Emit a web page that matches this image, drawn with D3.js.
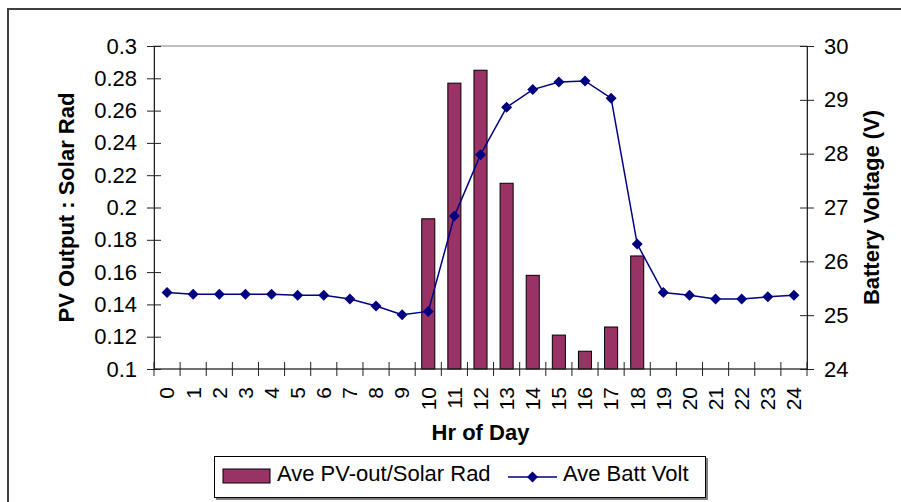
<!DOCTYPE html>
<html>
<head>
<meta charset="utf-8">
<script src="https://cdn.jsdelivr.net/npm/d3@7"></script>
<style>
  body { margin: 0; background: #fff; }
  text { font-family: "Liberation Sans", Arial, sans-serif; fill: #000; }
</style>
</head>
<body>
<svg id="chart" width="901" height="502"></svg>
<script>
// --- data ---
const hours = ['0', '1', '2', '3', '4', '5', '6', '7', '8', '9', '10', '11', '12',
               '13', '14', '15', '16', '17', '18', '19', '20', '21', '22', '23', '24'];
// PV output / solar radiation (bars, left axis) - only daylight hours
const pvRatio = [null, null, null, null, null, null, null, null, null, null,
                 0.193, 0.277, 0.285, 0.215, 0.158, 0.121, 0.111, 0.126, 0.170,
                 null, null, null, null, null, null];
// battery voltage (line, right axis)
const battVolt = [25.42, 25.39, 25.39, 25.39, 25.39, 25.37, 25.37, 25.30, 25.17, 25.01,
                  25.07, 26.84, 27.98, 28.86, 29.19, 29.33, 29.35, 29.03, 26.32,
                  25.42, 25.37, 25.30, 25.30, 25.34, 25.37];
const leftTicks = [0.1, 0.12, 0.14, 0.16, 0.18, 0.2, 0.22, 0.24, 0.26, 0.28, 0.3];
const rightTicks = [24, 25, 26, 27, 28, 29, 30];
const seriesNames = ['Ave PV-out/Solar Rad', 'Ave Batt Volt'];

const barColor = '#993366';
const lineColor = '#000080';
const axisColor = '#222';

const svg = d3.select('#chart');
const plot = { left: 154, right: 807, top: 46, bottom: 369 };

const x = d3.scaleBand().domain(hours).range([plot.left, plot.right])
    .paddingInner(0.5).paddingOuter(0.25);
const yL = d3.scaleLinear().domain([0.1, 0.3]).range([plot.bottom, plot.top]);
const yR = d3.scaleLinear().domain([24, 30]).range([plot.bottom, plot.top]);
const cx = h => x(h) + x.bandwidth() / 2;

// outer chart border
svg.append('rect')
    .attr('x', 8).attr('y', 9).attr('width', 920).attr('height', 520)
    .attr('fill', '#fff').attr('stroke', '#404040').attr('stroke-width', 2);

// plot area frame
svg.append('rect')
    .attr('x', plot.left).attr('y', plot.top)
    .attr('width', plot.right - plot.left).attr('height', plot.bottom - plot.top)
    .attr('fill', 'none').attr('stroke', '#808080').attr('stroke-width', 1);

// bars
const barData = hours.map((h, i) => ({ h, v: pvRatio[i] })).filter(d => d.v != null);
svg.append('g').selectAll('rect').data(barData).enter().append('rect')
    .attr('x', d => x(d.h))
    .attr('y', d => yL(d.v))
    .attr('width', x.bandwidth())
    .attr('height', d => yL(0.1) - yL(d.v))
    .attr('fill', barColor).attr('stroke', '#000').attr('stroke-width', 1);

// left axis
const axL = svg.append('g').attr('transform', `translate(${plot.left},0)`)
    .call(d3.axisLeft(yL).tickValues(leftTicks).tickSizeInner(7).tickSizeOuter(0)
        .tickPadding(10).tickFormat(d => String(d)));
axL.selectAll('.tick line').attr('x1', 7);
axL.selectAll('path, line').attr('stroke', axisColor);
axL.selectAll('text').attr('font-size', 22).attr('font-family', '"Liberation Sans", Arial, sans-serif');

// right axis
const axR = svg.append('g').attr('transform', `translate(${plot.right},0)`)
    .call(d3.axisRight(yR).tickValues(rightTicks).tickSizeInner(7).tickSizeOuter(0)
        .tickPadding(10).tickFormat(d => String(d)));
axR.selectAll('.tick line').attr('x1', -7);
axR.selectAll('path, line').attr('stroke', axisColor);
axR.selectAll('text').attr('font-size', 22).attr('font-family', '"Liberation Sans", Arial, sans-serif');

// bottom axis: line, category boundary ticks, rotated labels
const xAxis = svg.append('g');
xAxis.append('line')
    .attr('x1', plot.left).attr('x2', plot.right)
    .attr('y1', plot.bottom).attr('y2', plot.bottom)
    .attr('stroke', axisColor);
const bounds = hours.map(h => x(h) - x.step() * x.paddingOuter()).concat([plot.right]);
xAxis.selectAll('.xtick').data(bounds).enter().append('line')
    .attr('class', 'xtick')
    .attr('x1', d => d).attr('x2', d => d)
    .attr('y1', plot.bottom - 7).attr('y2', plot.bottom + 7)
    .attr('stroke', axisColor);
xAxis.selectAll('text').data(hours).enter().append('text')
    .attr('transform', h => `translate(${cx(h)},387) rotate(-90)`)
    .attr('text-anchor', 'end').attr('dy', '0.35em')
    .attr('font-size', 21)
    .text(h => h);

// battery voltage line + diamond markers
const line = d3.line().x((d, i) => cx(hours[i])).y(d => yR(d));
svg.append('path').datum(battVolt)
    .attr('d', line)
    .attr('fill', 'none').attr('stroke', lineColor).attr('stroke-width', 1.5);
const diamond = 'M0,-5.5L5.5,0L0,5.5L-5.5,0Z';
svg.append('g').selectAll('path').data(battVolt).enter().append('path')
    .attr('d', diamond)
    .attr('transform', (d, i) => `translate(${cx(hours[i])},${yR(d)})`)
    .attr('fill', lineColor);

// axis titles
const midY = (plot.top + plot.bottom) / 2;
svg.append('text')
    .attr('transform', `translate(74,${midY}) rotate(-90)`)
    .attr('text-anchor', 'middle').attr('font-size', 22).attr('font-weight', 'bold')
    .text('PV Output : Solar Rad');
svg.append('text')
    .attr('transform', `translate(879,${midY}) rotate(-90)`)
    .attr('text-anchor', 'middle').attr('font-size', 22).attr('font-weight', 'bold')
    .text('Battery Voltage (V)');
svg.append('text')
    .attr('x', (plot.left + plot.right) / 2).attr('y', 440)
    .attr('text-anchor', 'middle').attr('font-size', 22).attr('font-weight', 'bold')
    .text('Hr of Day');

// legend
const legend = svg.append('g');
legend.append('rect')
    .attr('x', 216).attr('y', 458).attr('width', 492).attr('height', 42)
    .attr('fill', '#808080');
legend.append('rect')
    .attr('x', 214.5).attr('y', 456.5).attr('width', 491).attr('height', 41)
    .attr('fill', '#fff').attr('stroke', '#000').attr('stroke-width', 1);
legend.append('rect')
    .attr('x', 223).attr('y', 469).attr('width', 47).attr('height', 14)
    .attr('fill', barColor).attr('stroke', '#000').attr('stroke-width', 1);
legend.append('text').attr('x', 277).attr('y', 481).attr('font-size', 22).text(seriesNames[0]);
legend.append('line')
    .attr('x1', 508).attr('x2', 557).attr('y1', 477).attr('y2', 477)
    .attr('stroke', lineColor).attr('stroke-width', 1.5);
legend.append('path').attr('d', diamond).attr('transform', 'translate(532.5,477)').attr('fill', lineColor);
legend.append('text').attr('x', 563).attr('y', 481).attr('font-size', 22).text(seriesNames[1]);
</script>
</body>
</html>
